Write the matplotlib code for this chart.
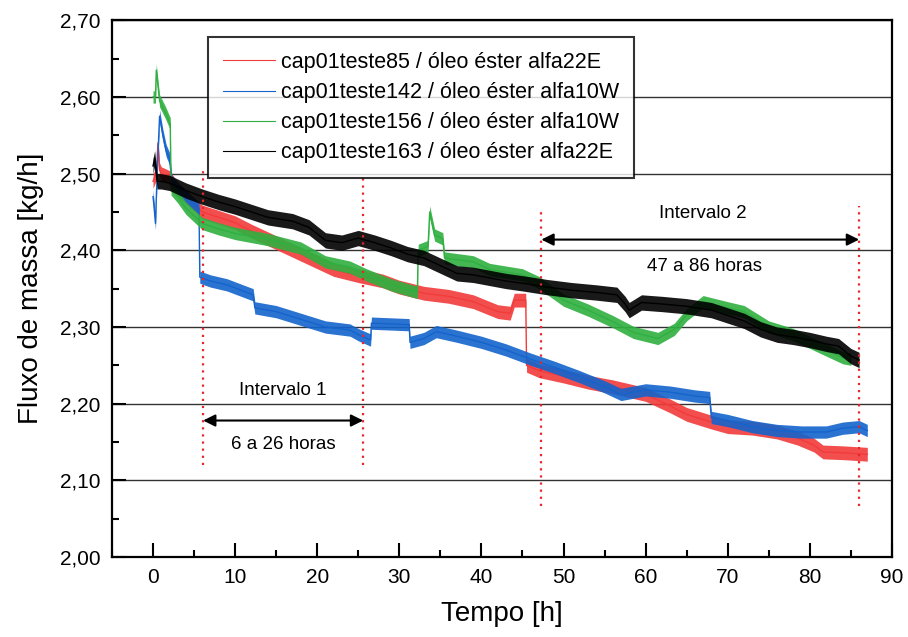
import matplotlib
matplotlib.use("Agg")
import matplotlib.pyplot as plt
import numpy as np

plt.rcParams['font.family'] = ['Liberation Sans', 'DejaVu Sans']

# ---------------- data ----------------
red_label = "cap01teste85 / óleo éster alfa22E"
red_x = [0, 0.4, 0.6, 0.8, 1, 2, 3, 4, 6, 8, 10, 12, 14, 17, 20, 22, 25, 28, 30, 33, 36, 39, 42,
         43.5, 44, 45.4, 45.5, 47, 50, 53, 56, 60, 63, 65, 68, 70, 73, 76, 78.5, 80.5, 81.6, 84, 87]
red_y = [2.49, 2.50, 2.54, 2.505, 2.50, 2.495, 2.48, 2.47, 2.45, 2.443, 2.436, 2.425, 2.415, 2.40,
         2.385, 2.375, 2.367, 2.36, 2.352, 2.344, 2.34, 2.333, 2.32, 2.318, 2.335, 2.335, 2.25,
         2.243, 2.236, 2.228, 2.222, 2.212, 2.197, 2.186, 2.176, 2.17, 2.168, 2.163, 2.155, 2.146,
         2.137, 2.136, 2.134]
red_spread = 0.009

blue_label = "cap01teste142 / óleo éster alfa10W"
blue_x = [0, 0.1, 0.3, 0.5, 0.8, 1.2, 1.6, 2.0, 2.3, 3, 4, 5, 5.6, 5.7, 7, 9, 12.2, 12.4, 15, 18,
          21, 24, 25, 26.5, 26.6, 31.2, 31.3, 33, 34.5, 37, 40, 43, 46, 49, 52, 55, 57, 60, 63, 66,
          67.8, 68, 70, 73, 76, 79, 82, 84, 86, 87]
blue_y = [2.47, 2.46, 2.435, 2.50, 2.575, 2.55, 2.53, 2.52, 2.49, 2.48, 2.47, 2.46, 2.455, 2.365,
          2.36, 2.355, 2.342, 2.325, 2.32, 2.31, 2.30, 2.296, 2.29, 2.283, 2.305, 2.303, 2.28,
          2.285, 2.294, 2.288, 2.28, 2.27, 2.258, 2.247, 2.235, 2.222, 2.212, 2.218, 2.215, 2.21,
          2.208, 2.182, 2.178, 2.17, 2.165, 2.163, 2.163, 2.168, 2.17, 2.165]
blue_spread = 0.008

green_label = "cap01teste156 / óleo éster alfa10W"
green_x = [0, 0.3, 0.4, 0.8, 1.5, 2.1, 2.2, 3, 4, 6, 8, 10, 14, 18, 21, 24, 26, 29, 32.2, 32.3,
           33.5, 33.7, 34.3, 35.3, 35.5, 39, 41, 45, 47, 50, 53, 56, 58.5, 61.5, 63.5, 65, 67, 70,
           72, 75, 78, 80, 82, 84, 85]
green_y = [2.60, 2.60, 2.635, 2.595, 2.58, 2.565, 2.48, 2.47, 2.455, 2.435, 2.428, 2.422, 2.414,
           2.403, 2.385, 2.378, 2.368, 2.355, 2.345, 2.40, 2.405, 2.45, 2.42, 2.415, 2.39, 2.385,
           2.375, 2.368, 2.358, 2.335, 2.322, 2.307, 2.293, 2.285, 2.297, 2.316, 2.333, 2.325,
           2.32, 2.30, 2.29, 2.28, 2.27, 2.26, 2.258]
green_spread = 0.008

black_label = "cap01teste163 / óleo éster alfa22E"
black_x = [0, 0.2, 0.5, 1, 2, 4, 6, 8, 10, 12, 14, 17, 19, 21, 23, 25, 27, 29, 31, 33, 35, 37,
           39, 41, 43, 45, 48, 51, 54, 56.5, 57.5, 58, 59.5, 62, 65, 68, 70, 72, 74, 76, 78, 80,
           82, 83.5, 85, 86]
black_y = [2.51, 2.52, 2.49, 2.49, 2.488, 2.478, 2.47, 2.463, 2.457, 2.45, 2.443, 2.438, 2.43,
           2.413, 2.41, 2.416, 2.41, 2.403, 2.395, 2.39, 2.38, 2.37, 2.368, 2.364, 2.36, 2.357,
           2.352, 2.348, 2.345, 2.342, 2.33, 2.322, 2.332, 2.33, 2.327, 2.322, 2.315, 2.308,
           2.297, 2.29, 2.287, 2.283, 2.278, 2.275, 2.262, 2.257]
black_spread = 0.010

# interval markers
interval1 = (6.1, 25.6)
interval1_ylims = [(2.12, 2.505), (2.12, 2.495)]
interval1_arrow_y = 2.178
interval1_title = "Intervalo 1"
interval1_text = "6 a 26 horas"

interval2 = (47.3, 86.0)
interval2_ylims = [(2.066, 2.455), (2.066, 2.458)]
interval2_arrow_y = 2.414
interval2_title = "Intervalo 2"
interval2_text = "47 a 86 horas"

xticks = [0, 10, 20, 30, 40, 50, 60, 70, 80, 90]
yticks = [2.00, 2.10, 2.20, 2.30, 2.40, 2.50, 2.60, 2.70]
ytick_labels = ["2,00", "2,10", "2,20", "2,30", "2,40", "2,50", "2,60", "2,70"]

xlabel = "Tempo [h]"
ylabel = "Fluxo de massa [kg/h]"

# ---------------- figure ----------------
fig = plt.figure(figsize=(9.08, 6.37), dpi=100)
ax = fig.add_axes([0.1233, 0.1256, 0.8590, 0.8425])

series = [
    (red_x, red_y, red_spread, "#f23b3b", red_label),
    (blue_x, blue_y, blue_spread, "#1464cc", blue_label),
    (green_x, green_y, green_spread, "#2fb040", green_label),
    (black_x, black_y, black_spread, "#000000", black_label),
]
handles = []
for xs, ys, sp, col, lab in series:
    xs = np.asarray(xs, float)
    ys = np.asarray(ys, float)
    ax.fill_between(xs, ys - sp, ys + sp, color=col, lw=0, alpha=0.9, zorder=3)
    ax.plot(xs, ys, color=col, lw=1.0, zorder=3)
    h, = ax.plot([], [], color=col, lw=0.8, label=lab)
    handles.append(h)

ax.set_xlim(-4, 90)
ax.set_ylim(2.00, 2.70)
ax.set_xticks(xticks)
ax.set_xticks(np.arange(-5, 90, 5), minor=True)
ax.set_yticks(yticks)
ax.set_yticklabels(ytick_labels)
ax.set_yticks(np.arange(2.0, 2.701, 0.05), minor=True)
ax.tick_params(which='both', direction='in', top=False, right=False, labelsize=15, width=1.5)
ax.tick_params(which='major', length=10, pad=8)
ax.tick_params(which='minor', length=5)
for s in ax.spines.values():
    s.set_linewidth(1.6)
ax.yaxis.grid(True, color='#333333', lw=1.0, zorder=1)

ax.set_xlabel(xlabel, fontsize=20, labelpad=10)
ax.set_ylabel(ylabel, fontsize=20, labelpad=12)

# interval annotations
for xv, (y0, y1) in zip(interval1, interval1_ylims):
    ax.plot([xv, xv], [y0, y1], color='#e8262b', ls=(0, (1, 2.2)), lw=1.6, zorder=4)
for xv, (y0, y1) in zip(interval2, interval2_ylims):
    ax.plot([xv, xv], [y0, y1], color='#e8262b', ls=(0, (1, 2.2)), lw=1.6, zorder=4)

arrowprops = dict(arrowstyle='<|-|>', color='black', lw=1.5, mutation_scale=18,
                  shrinkA=0, shrinkB=0)
ax.annotate('', xy=(interval1[0], interval1_arrow_y), xytext=(interval1[1], interval1_arrow_y),
            arrowprops=arrowprops, zorder=5)
ax.annotate('', xy=(interval2[0], interval2_arrow_y), xytext=(interval2[1], interval2_arrow_y),
            arrowprops=arrowprops, zorder=5)
ax.text(sum(interval1) / 2, interval1_arrow_y + 0.039, interval1_title, ha='center', va='center', fontsize=13.5)
ax.text(sum(interval1) / 2, interval1_arrow_y - 0.031, interval1_text, ha='center', va='center', fontsize=13.5)
ax.text(67.0, interval2_arrow_y + 0.034, interval2_title, ha='center', va='center', fontsize=13.5)
ax.text(67.2, interval2_arrow_y - 0.035, interval2_text, ha='center', va='center', fontsize=13.5)

leg = ax.legend(handles=handles, loc='upper left', bbox_to_anchor=(0.123, 0.969),
                borderaxespad=0, fontsize=15.5, frameon=True, fancybox=False,
                handlelength=2.4, handletextpad=0.3, labelspacing=0.42, borderpad=0.7)
leg.get_frame().set_edgecolor('black')
leg.get_frame().set_linewidth(1.5)
leg.set_zorder(6)

fig.savefig("out.png", dpi=100)
